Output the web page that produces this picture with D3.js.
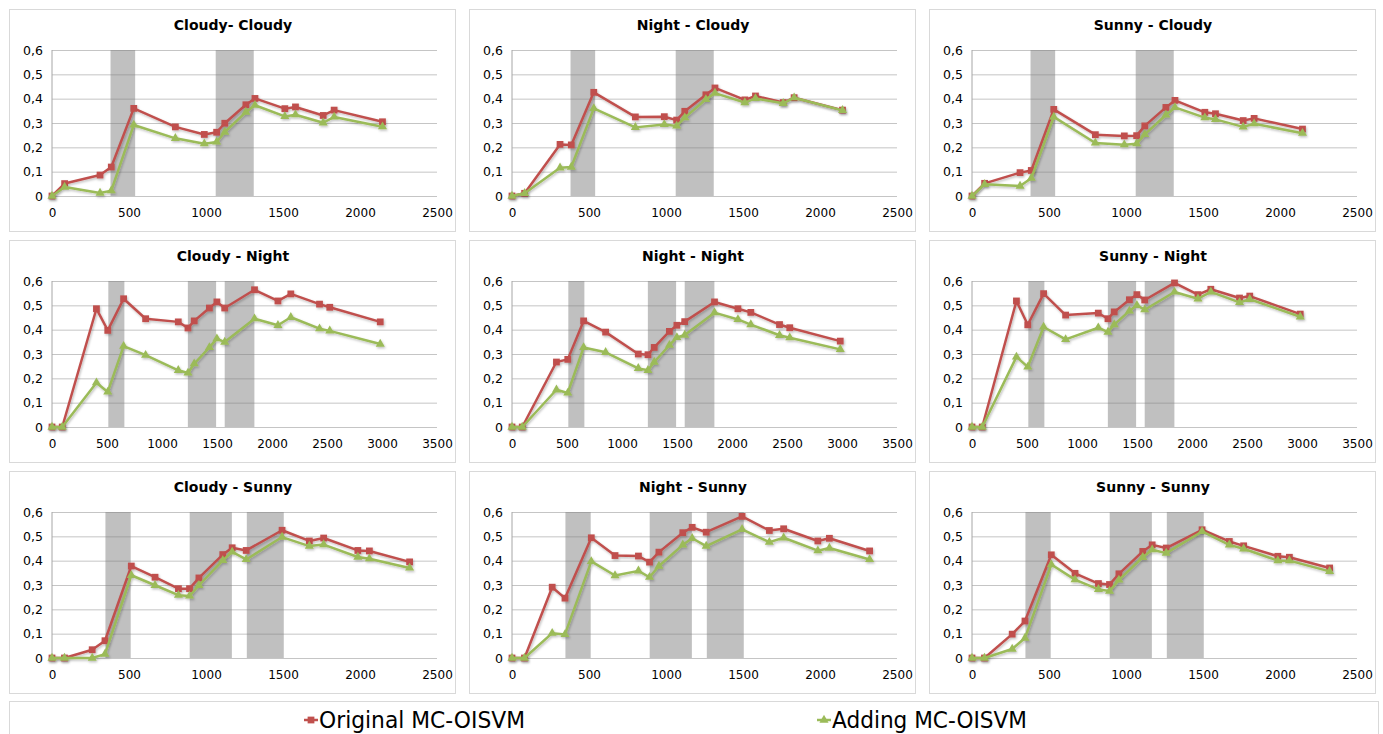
<!DOCTYPE html>
<html>
<head>
<meta charset="utf-8">
<script src="https://cdn.jsdelivr.net/npm/d3@7"></script>
<style>
  body { margin: 0; background: #fff; }
  text { font-family: "DejaVu Sans", Verdana, sans-serif; }
</style>
</head>
<body>
<script>
const svgWidth = 1383
const svgHeight = 734

// x positions (time) shared by the panels of each row
const xRow1 = [0, 82, 312, 385, 531, 801, 989, 1069, 1122, 1259, 1318, 1512, 1581, 1761, 1832, 2146]
const xRow2 = [0, 93, 404, 507, 651, 851, 1148, 1236, 1293, 1431, 1499, 1570, 1841, 2054, 2171, 2432, 2525, 2984]
const xRow3 = [0, 81, 261, 344, 515, 669, 821, 893, 954, 1109, 1170, 1261, 1494, 1671, 1764, 1986, 2061, 2322]

// grey shaded bands for each row
const bandsRow1 = [[380, 540], [1063, 1310]]
const bandsRow2 = [[512, 658], [1235, 1492], [1570, 1840]]
const bandsRow3 = [[347, 511], [894, 1168], [1265, 1505]]

const xMaxRows = [2500, 3500, 2500]
const yTicks = [0, 0.1, 0.2, 0.3, 0.4, 0.5, 0.6]

const titles = [
  "Cloudy- Cloudy", "Night - Cloudy", "Sunny - Cloudy",
  "Cloudy - Night", "Night - Night", "Sunny - Night",
  "Cloudy - Sunny", "Night - Sunny", "Sunny - Sunny"
]

const seriesNames = ["Original MC-OISVM", "Adding MC-OISVM"]

const cloudyCloudyOrig = [0, 0.051, 0.086, 0.119, 0.36, 0.284, 0.253, 0.262, 0.299, 0.375, 0.401, 0.359, 0.366, 0.331, 0.353, 0.305]
const cloudyCloudyAdd = [0, 0.037, 0.012, 0.022, 0.292, 0.237, 0.215, 0.222, 0.263, 0.345, 0.373, 0.327, 0.334, 0.301, 0.325, 0.285]
const nightCloudyOrig = [0, 0.011, 0.212, 0.21, 0.426, 0.325, 0.326, 0.312, 0.348, 0.416, 0.444, 0.395, 0.411, 0.384, 0.404, 0.353]
const nightCloudyAdd = [0, 0.011, 0.116, 0.119, 0.36, 0.282, 0.294, 0.288, 0.322, 0.397, 0.423, 0.384, 0.401, 0.381, 0.404, 0.352]
const sunnyCloudyOrig = [0, 0.052, 0.096, 0.105, 0.356, 0.252, 0.247, 0.248, 0.288, 0.364, 0.393, 0.344, 0.338, 0.31, 0.319, 0.275]
const sunnyCloudyAdd = [0, 0.048, 0.041, 0.073, 0.325, 0.218, 0.211, 0.215, 0.253, 0.333, 0.364, 0.322, 0.315, 0.284, 0.297, 0.258]

const cloudyNightOrig = [0, 0, 0.486, 0.397, 0.527, 0.445, 0.432, 0.407, 0.436, 0.489, 0.514, 0.489, 0.564, 0.518, 0.547, 0.505, 0.492, 0.432]
const cloudyNightAdd = [0, 0, 0.182, 0.144, 0.332, 0.295, 0.233, 0.222, 0.26, 0.327, 0.363, 0.349, 0.445, 0.418, 0.451, 0.404, 0.395, 0.341]
const nightNightOrig = [0, 0, 0.267, 0.278, 0.436, 0.39, 0.3, 0.297, 0.327, 0.393, 0.418, 0.433, 0.514, 0.486, 0.471, 0.421, 0.408, 0.353]
const nightNightAdd = [0, 0, 0.153, 0.14, 0.327, 0.307, 0.241, 0.233, 0.267, 0.336, 0.368, 0.378, 0.47, 0.442, 0.421, 0.377, 0.367, 0.319]
const sunnyNightOrig = [0, 0, 0.518, 0.42, 0.548, 0.46, 0.468, 0.445, 0.473, 0.523, 0.544, 0.522, 0.592, 0.544, 0.566, 0.53, 0.538, 0.464]
const sunnyNightAdd = [0, 0, 0.288, 0.247, 0.411, 0.36, 0.408, 0.39, 0.421, 0.477, 0.5, 0.482, 0.555, 0.527, 0.555, 0.512, 0.525, 0.453]

const cloudySunnyOrig = [0, 0, 0.034, 0.071, 0.378, 0.332, 0.285, 0.285, 0.329, 0.425, 0.453, 0.442, 0.525, 0.481, 0.493, 0.442, 0.44, 0.395]
const cloudySunnyAdd = [0, 0, 0, 0.016, 0.34, 0.299, 0.258, 0.255, 0.299, 0.401, 0.436, 0.405, 0.497, 0.46, 0.466, 0.415, 0.408, 0.37]
const nightSunnyOrig = [0, 0, 0.291, 0.246, 0.494, 0.421, 0.419, 0.394, 0.435, 0.515, 0.537, 0.517, 0.582, 0.524, 0.531, 0.481, 0.492, 0.44]
const nightSunnyAdd = [0, 0, 0.102, 0.097, 0.397, 0.339, 0.358, 0.332, 0.378, 0.465, 0.492, 0.46, 0.529, 0.476, 0.494, 0.441, 0.452, 0.405]
const sunnySunnyOrig = [0, 0, 0.098, 0.152, 0.424, 0.348, 0.306, 0.302, 0.346, 0.438, 0.465, 0.452, 0.527, 0.479, 0.461, 0.418, 0.414, 0.37]
const sunnySunnyAdd = [0, 0, 0.037, 0.082, 0.384, 0.322, 0.282, 0.275, 0.321, 0.414, 0.445, 0.431, 0.52, 0.465, 0.449, 0.4, 0.4, 0.356]

const rows = [
  { xs: xRow1, bands: bandsRow1, xMax: xMaxRows[0], panels: [[cloudyCloudyOrig, cloudyCloudyAdd], [nightCloudyOrig, nightCloudyAdd], [sunnyCloudyOrig, sunnyCloudyAdd]] },
  { xs: xRow2, bands: bandsRow2, xMax: xMaxRows[1], panels: [[cloudyNightOrig, cloudyNightAdd], [nightNightOrig, nightNightAdd], [sunnyNightOrig, sunnyNightAdd]] },
  { xs: xRow3, bands: bandsRow3, xMax: xMaxRows[2], panels: [[cloudySunnyOrig, cloudySunnyAdd], [nightSunnyOrig, nightSunnyAdd], [sunnySunnyOrig, sunnySunnyAdd]] }
]

const colors = ["#c0504d", "#9bbb59"]

const panelW = 446
const panelH = 222
const colX = [9, 469, 929]
const rowY = [9, 240, 471]
const plot = { left: 43, top: 41, width: 385, height: 146 }

const svg = d3.select("body").append("svg")
  .attr("width", svgWidth)
  .attr("height", svgHeight)

const defs = svg.append("defs")
const shadow = defs.append("filter").attr("id", "shadow")
  .attr("x", "-10%").attr("y", "-10%").attr("width", "120%").attr("height", "130%")
shadow.append("feDropShadow")
  .attr("dx", 1).attr("dy", 1.5).attr("stdDeviation", 0.8)
  .attr("flood-color", "#000").attr("flood-opacity", 0.25)

const fmtY = d => d === 0 ? "0" : d3.format(".1f")(d).replace(".", ",")

const square = d3.symbol().type(d3.symbolSquare).size(46)
const triangle = d3.symbol().type(d3.symbolTriangle).size(36)

rows.forEach((row, ri) => {
  row.panels.forEach((series, ci) => {
    const g = svg.append("g")
      .attr("transform", `translate(${colX[ci]}, ${rowY[ri]})`)

    g.append("rect")
      .attr("x", 0.5).attr("y", 0.5)
      .attr("width", panelW).attr("height", panelH)
      .attr("fill", "#fff")
      .attr("stroke", "#d9d9d9")

    g.append("text")
      .attr("x", panelW / 2 + 1)
      .attr("y", 21)
      .attr("text-anchor", "middle")
      .attr("font-size", "14px")
      .attr("font-weight", "bold")
      .attr("fill", "#000")
      .text(titles[ri * 3 + ci])

    const chartG = g.append("g")
      .attr("transform", `translate(${plot.left}, ${plot.top})`)

    const x = d3.scaleLinear()
      .domain([0, row.xMax])
      .range([0, plot.width])

    const y = d3.scaleLinear()
      .domain([0, 0.6])
      .range([plot.height, 0])

    // shaded bands
    chartG.selectAll("rect.band")
      .data(row.bands)
      .enter()
      .append("rect")
      .attr("class", "band")
      .attr("x", d => x(d[0]))
      .attr("width", d => x(d[1]) - x(d[0]))
      .attr("y", y(0.6))
      .attr("height", y(0) - y(0.6))
      .attr("fill", "#c0c0c0")

    // gridlines + y labels
    const yAxis = d3.axisLeft(y)
      .tickValues(yTicks)
      .tickSize(-plot.width)
      .tickPadding(9)
      .tickFormat(fmtY)

    const yAxisG = chartG.append("g").call(yAxis)
    yAxisG.select(".domain").remove()
    yAxisG.selectAll(".tick line")
      .attr("stroke", "#7f7f7f")
      .attr("stroke-opacity", 0.45)
    yAxisG.selectAll(".tick text")
      .attr("font-size", "12.5px")
      .attr("fill", "#000")
      .attr("font-family", "'DejaVu Sans', Verdana, sans-serif")

    chartG.append("line")
      .attr("x1", 0).attr("x2", 0)
      .attr("y1", y(0.6)).attr("y2", y(0))
      .attr("stroke", "#a6a6a6")

    const xAxis = d3.axisBottom(x)
      .tickValues(d3.range(0, row.xMax + 1, 500))
      .tickSize(0)
      .tickPadding(12)
      .tickFormat(d3.format("d"))

    const xAxisG = chartG.append("g")
      .attr("transform", `translate(0, ${plot.height})`)
      .call(xAxis)
    xAxisG.select(".domain").remove()
    xAxisG.selectAll(".tick text")
      .attr("font-size", "12px")
      .attr("fill", "#000")
      .attr("font-family", "'DejaVu Sans', Verdana, sans-serif")

    const line = d3.line()
      .x((d, i) => x(row.xs[i]))
      .y(d => y(d))

    series.forEach((vals, si) => {
      const sg = chartG.append("g").attr("filter", "url(#shadow)")
      sg.append("path")
        .datum(vals)
        .attr("d", line)
        .attr("fill", "none")
        .attr("stroke", colors[si])
        .attr("stroke-width", 2.5)
        .attr("stroke-linejoin", "round")

      sg.selectAll("path.marker")
        .data(vals)
        .enter()
        .append("path")
        .attr("class", "marker")
        .attr("d", si === 0 ? square : triangle)
        .attr("transform", (d, i) => `translate(${x(row.xs[i])}, ${y(d)})`)
        .attr("fill", colors[si])
    })
  })
})

// legend
const legend = svg.append("g")
legend.append("rect")
  .attr("x", 9.5).attr("y", 701.5)
  .attr("width", 1369).attr("height", 40)
  .attr("fill", "#fff")
  .attr("stroke", "#d9d9d9")

const legendX = [304, 817]
seriesNames.forEach((name, i) => {
  const lg = legend.append("g").attr("transform", `translate(${legendX[i]}, 720)`)
  lg.append("line")
    .attr("x1", 0).attr("x2", 14)
    .attr("stroke", colors[i])
    .attr("stroke-width", 2.5)
  lg.append("path")
    .attr("d", i === 0 ? square : triangle)
    .attr("transform", "translate(7, 0)")
    .attr("fill", colors[i])
  lg.append("text")
    .attr("x", 15)
    .attr("y", 8)
    .attr("font-family", "'Liberation Sans Narrow', 'DejaVu Sans Condensed', sans-serif")
    .attr("font-size", "23px")
    .attr("textLength", i === 0 ? 206 : 195)
    .attr("lengthAdjust", "spacingAndGlyphs")
    .attr("fill", "#000")
    .text(name)
})
</script>
</body>
</html>
